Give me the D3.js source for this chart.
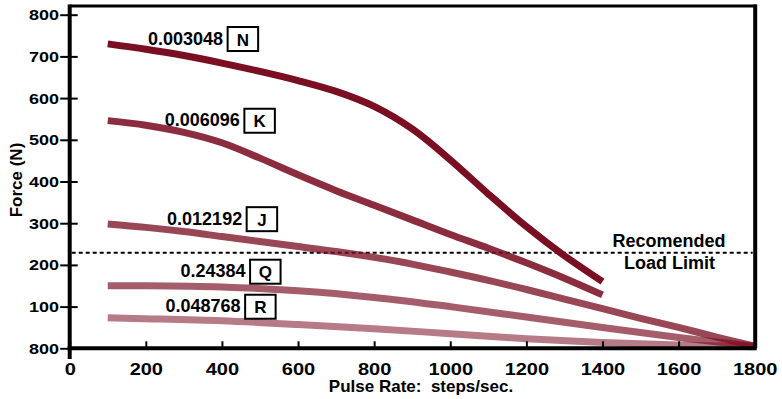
<!DOCTYPE html>
<html>
<head>
<meta charset="utf-8">
<script src="https://cdn.jsdelivr.net/npm/d3@7"></script>
<style>
  html, body { margin: 0; padding: 0; background: #fff; }
  svg { display: block; }
  text { font-family: "Liberation Sans", Arial, Helvetica, sans-serif; font-weight: bold; fill: #000; white-space: pre; }
</style>
</head>
<body>
<svg id="chart" width="782" height="399"></svg>
<script>
// ---------- data ----------
const xTicks = [0, 200, 400, 600, 800, 1000, 1200, 1400, 1600, 1800];
const xTickLabels = ["0", "200", "400", "600", "800", "1000", "1200", "1400", "1600", "1800"];
const yTicks = [0, 100, 200, 300, 400, 500, 600, 700, 800];
const yTickLabels = ["800", "100", "200", "300", "400", "500", "600", "700", "800"];

const seriesNames = ["0.003048", "0.006096", "0.012192", "0.24384", "0.048768"];
const seriesLetters = ["N", "K", "J", "Q", "R"];

const stepsN = [100, 200, 300, 400, 500, 600, 700, 800, 900, 1000, 1100, 1200, 1300, 1400];
const forceN = [730, 717, 702, 684, 664, 642, 616, 580, 526, 452, 370, 292, 222, 160];

const stepsK = [100, 200, 300, 400, 500, 600, 700, 800, 900, 1000, 1100, 1200, 1300, 1400];
const forceK = [546, 535, 518, 493, 456, 416, 378, 343, 308, 273, 240, 205, 168, 128];

const stepsJ = [100, 200, 300, 400, 500, 600, 700, 800, 900, 1000, 1100, 1200, 1300, 1400, 1500, 1600, 1700, 1800];
const forceJ = [298, 290, 280, 268, 256, 244, 232, 218, 202, 183, 163, 141, 118, 95, 72, 50, 27, 5];

const stepsQ = [100, 200, 400, 600, 800, 1000, 1200, 1400, 1600, 1800];
const forceQ = [150, 150, 147, 138, 122, 100, 75, 50, 26, 5];

const stepsR = [100, 200, 400, 600, 800, 1000, 1200, 1400, 1600, 1800];
const forceR = [73, 71, 66, 57, 47, 35, 23, 14, 8, 4];

const loadLimit = 229;
const loadLimitText = ["Recomended", "Load Limit"];
const xTitle = "Pulse Rate:  steps/sec.";
const yTitle = "Force (N)";

// ---------- layout ----------
const svg = d3.select("#chart");
const x = d3.scaleLinear().domain([0, 1800]).range([69.7, 754.7]);
const y = d3.scaleLinear().domain([0, 800]).range([348.3, 14.7]);
const yFrameTop = 821;

const series = [
  { steps: stepsN, force: forceN, opacity: 1.0 },
  { steps: stepsK, force: forceK, opacity: 0.87 },
  { steps: stepsJ, force: forceJ, opacity: 0.77 },
  { steps: stepsQ, force: forceQ, opacity: 0.67 },
  { steps: stepsR, force: forceR, opacity: 0.55 }
];
const baseColor = "rgb(122,14,34)";

// label anchors in data units (box left edge, text baseline)
const labelAnchor = [
  { sx: 415, fy: 728 },
  { sx: 459, fy: 532 },
  { sx: 465, fy: 296 },
  { sx: 474, fy: 170 },
  { sx: 461, fy: 86 }
];

// ---------- dashed load limit ----------
svg.append("line")
  .attr("x1", x(0) + 2).attr("x2", x(1800) - 2)
  .attr("y1", y(loadLimit)).attr("y2", y(loadLimit))
  .attr("stroke", "#000").attr("stroke-width", 2)
  .attr("stroke-dasharray", "4,3");

svg.append("text").attr("x", 669).attr("y", 247.3)
  .attr("text-anchor", "middle").style("font-size", "18px").text(loadLimitText[0]);
svg.append("text").attr("x", 669.5).attr("y", 268.5)
  .attr("text-anchor", "middle").style("font-size", "18px").text(loadLimitText[1]);

// ---------- curves ----------
const line = d3.line()
  .x(d => x(d[0])).y(d => y(d[1]))
  .curve(d3.curveCatmullRom.alpha(0.5));

series.slice().reverse().forEach(s => {
  const pts = s.steps.map((v, i) => [v, s.force[i]]);
  svg.append("path")
    .attr("d", line(pts))
    .attr("fill", "none")
    .attr("stroke", baseColor)
    .attr("stroke-opacity", s.opacity)
    .attr("stroke-width", 7)
    .attr("stroke-linecap", "butt")
    .attr("stroke-linejoin", "round");
});

// ---------- series labels ----------
seriesNames.forEach((name, i) => {
  const a = labelAnchor[i];
  const bx = x(a.sx), by = y(a.fy);
  svg.append("text").attr("x", bx - 4.5).attr("y", by)
    .attr("text-anchor", "end").style("font-size", "18px").text(name);
  svg.append("rect").attr("x", bx).attr("y", by - 17.7)
    .attr("width", 30.5).attr("height", 24)
    .attr("fill", "#fff").attr("stroke", "#000").attr("stroke-width", 2);
  svg.append("text").attr("x", bx + 15.25).attr("y", by + 0.8)
    .attr("text-anchor", "middle").style("font-size", "17px").text(seriesLetters[i]);
});

// ---------- axes ----------
const yAxis = d3.axisLeft(y)
  .tickValues(yTicks)
  .tickFormat((d, i) => yTickLabels[i])
  .tickSizeOuter(0);
const gy = svg.append("g").attr("transform", `translate(${x(0)},0)`).call(yAxis);
gy.select(".domain").remove();
gy.selectAll(".tick line").attr("x1", 8).attr("x2", -9.5).attr("stroke", "#000").attr("stroke-width", 2);
gy.selectAll(".tick text")
  .attr("x", -10.7 / 1.2).attr("dy", null).attr("y", 5)
  .attr("transform", "scale(1.2,1)")
  .attr("fill", "#000")
  .style("font-family", "'Liberation Sans', Arial, sans-serif")
  .style("font-weight", "bold")
  .style("font-size", "15px");

const xAxis = d3.axisBottom(x)
  .tickValues(xTicks)
  .tickFormat((d, i) => xTickLabels[i])
  .tickSizeInner(-7)
  .tickSizeOuter(0);
const gx = svg.append("g").attr("transform", `translate(0,${y(0)})`).call(xAxis);
gx.select(".domain").remove();
gx.selectAll(".tick line").attr("stroke", "#000").attr("stroke-width", 2);
gx.selectAll(".tick text")
  .attr("y", 26.7).attr("dy", null)
  .attr("transform", "scale(1.25,1)")
  .attr("fill", "#000")
  .style("font-family", "'Liberation Sans', Arial, sans-serif")
  .style("font-weight", "bold")
  .style("font-size", "16px");

// ---------- frame ----------
const fTop = y(yFrameTop);
svg.append("line").attr("x1", x(0)).attr("x2", x(0)).attr("y1", fTop - 1.5).attr("y2", 359)
  .attr("stroke", "#000").attr("stroke-width", 4);
svg.append("line").attr("x1", x(0) - 2).attr("x2", x(1800) + 2).attr("y1", y(0)).attr("y2", y(0))
  .attr("stroke", "#000").attr("stroke-width", 4);
svg.append("line").attr("x1", x(0)).attr("x2", x(1800) + 2).attr("y1", fTop).attr("y2", fTop)
  .attr("stroke", "#000").attr("stroke-width", 3);
svg.append("line").attr("x1", x(1800) + 0.5).attr("x2", x(1800) + 0.5).attr("y1", fTop - 1.5).attr("y2", y(0))
  .attr("stroke", "#000").attr("stroke-width", 4);

// ---------- titles ----------
svg.append("text").attr("x", 421).attr("y", 392.3)
  .attr("text-anchor", "middle").style("font-size", "17px").text(xTitle);
svg.append("text")
  .attr("transform", "translate(21.5,180) rotate(-90)")
  .attr("text-anchor", "middle").style("font-size", "17px").text(yTitle);
</script>
</body>
</html>
